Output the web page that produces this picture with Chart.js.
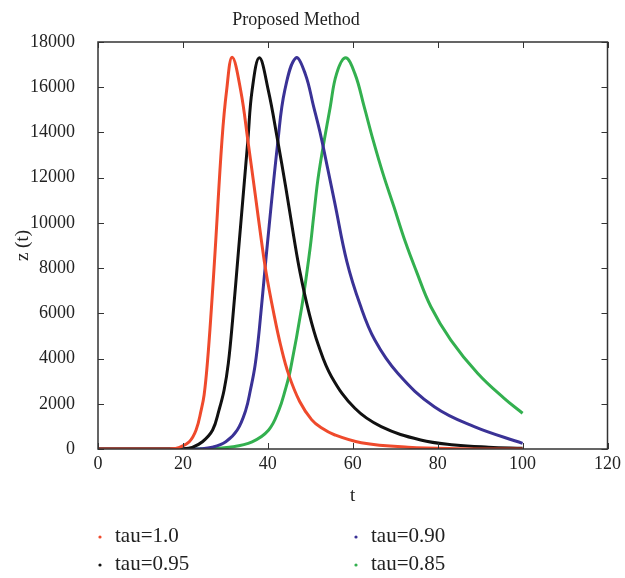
<!DOCTYPE html>
<html>
<head>
<meta charset="utf-8">
<script src="https://cdn.jsdelivr.net/npm/chart.js@4"></script>
<style>
  html, body { margin: 0; padding: 0; background: #fff; }
  #wrap { width: 625px; height: 578px; }
</style>
</head>
<body>
<div id="wrap"><canvas id="chart" width="625" height="578"></canvas></div>
<script>
// values
const chartTitle = "Proposed Method";
const seriesLabels = ["tau=1.0", "tau=0.95", "tau=0.90", "tau=0.85"];
const seriesColors = ["#ef4a2c", "#111111", "#3a3296", "#33b04f"];

const tRed = [0, 10, 17, 19.2, 21.5, 23.1, 24.3, 25.0, 25.8, 26.7, 27.6, 29.2, 30.3, 31.6, 33.6, 35.4, 37.0, 38.5, 39.6, 41.4, 43.0, 44.9, 47.5, 50.3, 52.5, 55.8, 62, 73, 85, 100];
const zRed = [0, 0, 10, 75, 320, 840, 1720, 2400, 3900, 6200, 8800, 13660, 15870, 17330, 15870, 13500, 11300, 9200, 7800, 6000, 4600, 3300, 2100, 1300, 950, 620, 280, 80, 15, 0];

const tBlack = [0, 15, 20, 22.2, 24.6, 27.0, 28.5, 29.7, 30.7, 31.7, 33.1, 35.3, 36.3, 38.0, 40.1, 42.3, 44.2, 46.1, 47.6, 49.6, 51.9, 55.0, 60.5, 66.7, 76, 84, 92, 100];
const zBlack = [0, 0, 10, 75, 320, 840, 1720, 2610, 3800, 5700, 8800, 13660, 15870, 17300, 15870, 13660, 11600, 9400, 7800, 6100, 4600, 3200, 1800, 990, 400, 180, 80, 30];

const tBlue = [0, 20, 24, 26.9, 30.1, 32.8, 34.8, 35.9, 37.0, 38.0, 39.6, 42.4, 44.0, 46.6, 48.8, 50.8, 52.3, 54.1, 55.8, 58.6, 61.7, 65.2, 70.6, 79.2, 88.6, 100];
const zBlue = [0, 0, 10, 75, 320, 840, 1720, 2610, 3700, 5300, 8500, 13660, 15870, 17300, 16600, 15130, 14000, 12400, 10850, 8300, 6400, 4820, 3350, 1870, 990, 250];

const tGreen = [0, 20, 26, 30.9, 36.3, 40.2, 42.6, 44.1, 45.3, 48.0, 49.9, 50.8, 52.0, 54.7, 56.2, 58.3, 60.5, 62.7, 64.8, 67.1, 69.7, 72.4, 74.9, 78.4, 83.1, 89.4, 95.6, 100];
const zGreen = [0, 0, 10, 75, 320, 840, 1720, 2610, 3490, 6290, 8800, 10300, 12190, 15130, 16600, 17300, 16600, 15130, 13660, 12190, 10710, 9150, 7900, 6290, 4820, 3350, 2250, 1580];

const xTicks = [0, 20, 40, 60, 80, 100, 120];
const yTicks = [0, 2000, 4000, 6000, 8000, 10000, 12000, 14000, 16000, 18000];

const seriesT = [tRed, tBlack, tBlue, tGreen];
const seriesZ = [zRed, zBlack, zBlue, zGreen];

Chart.defaults.font.family = "'Liberation Serif', serif";
Chart.defaults.color = "#222";

// box round the plot with small inward ticks, the title, and the two-column legend
const framePlugin = {
  id: "frame",
  afterDraw(chart) {
    const { ctx, chartArea: a, scales } = chart;
    ctx.save();
    ctx.strokeStyle = "#333";
    ctx.lineWidth = 1.5;
    ctx.strokeRect(a.left, a.top, a.right - a.left, a.bottom - a.top);
    ctx.lineWidth = 1;
    ctx.beginPath();
    scales.x.ticks.forEach((t) => {
      const px = Math.round(scales.x.getPixelForValue(t.value)) + 0.5;
      ctx.moveTo(px, a.bottom); ctx.lineTo(px, a.bottom - 6);
      ctx.moveTo(px, a.top); ctx.lineTo(px, a.top + 6);
    });
    scales.y.ticks.forEach((t) => {
      const py = Math.round(scales.y.getPixelForValue(t.value)) + 0.5;
      ctx.moveTo(a.left, py); ctx.lineTo(a.left + 6, py);
      ctx.moveTo(a.right, py); ctx.lineTo(a.right - 6, py);
    });
    ctx.stroke();

    ctx.fillStyle = "#222";
    ctx.font = "18px 'Liberation Serif', serif";
    ctx.textAlign = "center";
    ctx.textBaseline = "middle";
    ctx.fillText(chartTitle, 296, 20);

    // legend, column by column
    const cols = [100, 356];
    const rows = [536, 564];
    ctx.font = "21px 'Liberation Serif', serif";
    ctx.textAlign = "left";
    chart.data.datasets.forEach((ds, i) => {
      const x = cols[Math.floor(i / 2)];
      const y = rows[i % 2];
      ctx.fillStyle = ds.borderColor;
      ctx.beginPath();
      ctx.arc(x, y + 1, 1.6, 0, Math.PI * 2);
      ctx.fill();
      ctx.fillStyle = "#222";
      ctx.fillText(ds.label, x + 15, y);
    });
    ctx.restore();
  },
};

const ctx = document.getElementById("chart").getContext("2d");
new Chart(ctx, {
  type: "line",
  data: {
    datasets: seriesLabels.map((label, i) => ({
      label: label,
      data: seriesT[i].map((t, k) => ({ x: t, y: seriesZ[i][k] })),
      borderColor: seriesColors[i],
      backgroundColor: seriesColors[i],
      borderWidth: 3,
      pointRadius: 0,
      tension: 0.4,
      fill: false,
    })),
  },
  options: {
    responsive: false,
    animation: false,
    layout: { padding: { top: 42, right: 14, bottom: 68, left: 0 } },
    plugins: {
      legend: { display: false },
      tooltip: { enabled: false },
      title: { display: false },
    },
    scales: {
      x: {
        type: "linear",
        min: 0,
        max: 120,
        afterBuildTicks: (s) => { s.ticks = xTicks.map((v) => ({ value: v })); },
        grid: { display: false, drawTicks: false },
        border: { display: false },
        ticks: { padding: 4, font: { size: 18 }, color: "#222", callback: (v) => String(v) },
        title: { display: true, text: "t", font: { size: 19 }, color: "#222", padding: { top: 0, bottom: 3 } },
        afterFit: (s) => { s.height = 61; },
      },
      y: {
        min: 0,
        max: 18000,
        afterBuildTicks: (s) => { s.ticks = yTicks.map((v) => ({ value: v })); },
        grid: { display: false, drawTicks: false },
        border: { display: false },
        ticks: { padding: 23, font: { size: 18 }, color: "#222", callback: (v) => String(v) },
        title: { display: true, text: "z (t)", font: { size: 19 }, color: "#222", padding: { top: 12, bottom: 0 } },
        afterFit: (s) => { s.width = 98; },
      },
    },
  },
  plugins: [framePlugin],
});
</script>
</body>
</html>
